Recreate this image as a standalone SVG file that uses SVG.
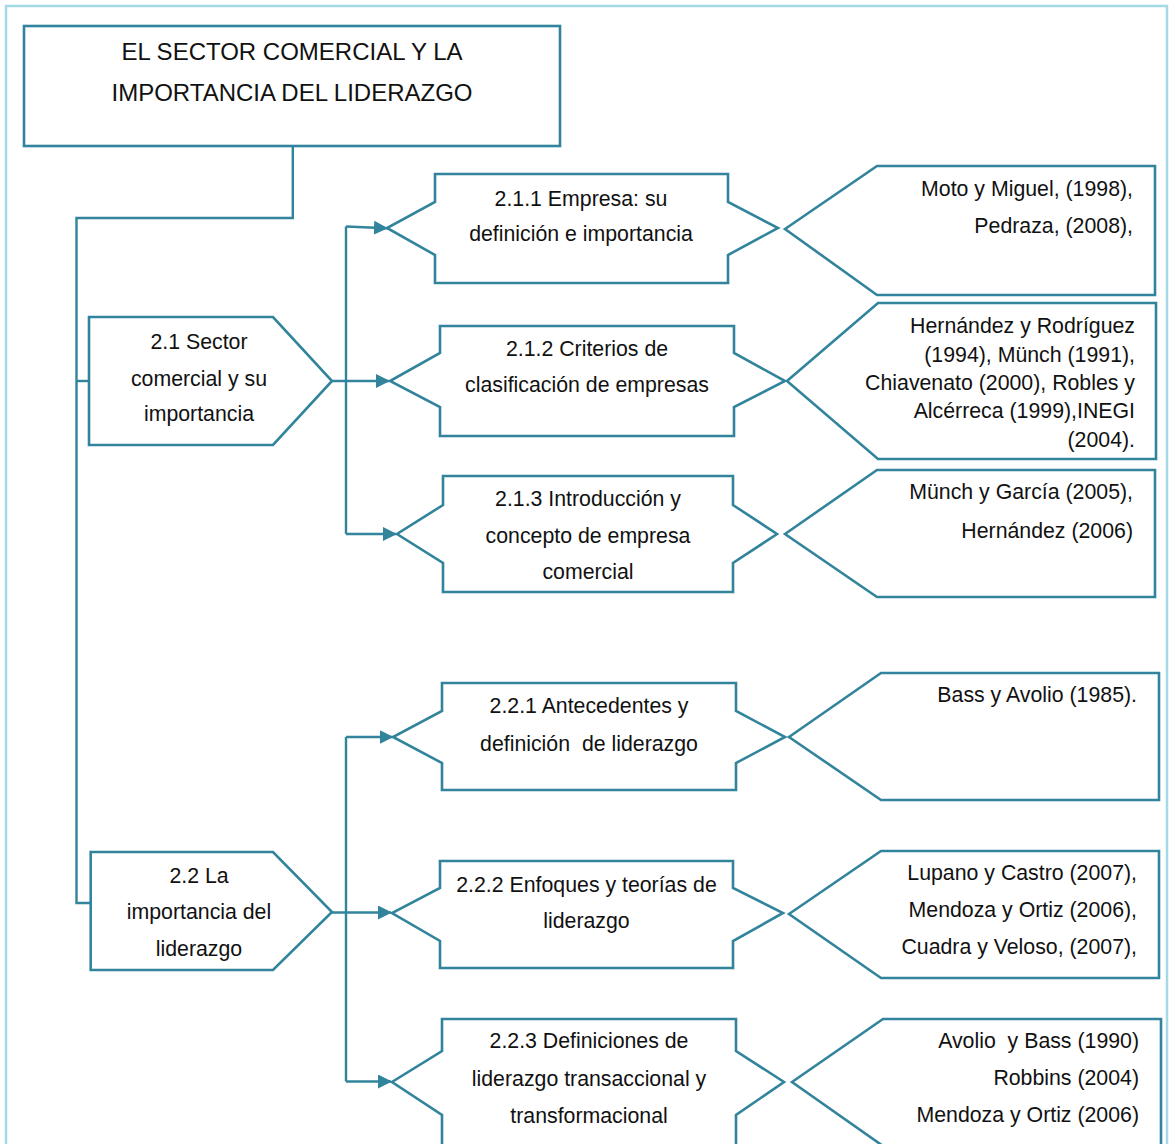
<svg xmlns="http://www.w3.org/2000/svg" width="1172" height="1144" viewBox="0 0 1172 1144">
<style>
.shape{fill:#fff;stroke:#31849B;stroke-width:2.6;stroke-linejoin:miter}
.conn{fill:none;stroke:#31849B;stroke-width:2.4}
text{font-family:"Liberation Sans",Arial,sans-serif;font-size:21.3px;fill:#111}
.c{text-anchor:middle}
.r{text-anchor:end}
.title{font-size:24px}
</style>
<defs>
<marker id="arr" markerUnits="userSpaceOnUse" markerWidth="16" markerHeight="16" refX="13" refY="7" orient="auto">
<path d="M0,0 L14,7 L0,14 z" fill="#31849B"/>
</marker>
</defs>
<rect x="0" y="0" width="1172" height="1144" fill="#fff"/>
<rect x="6" y="6" width="1161" height="1160" fill="none" stroke="#A6D9E6" stroke-width="2.5"/>

<g id="connectors">
<path class="conn" d="M292.8,146 V218 H76.5 V903 H90.7"/>
<path class="conn" d="M76.5,381 H89"/>
<path class="conn" d="M346,226.5 V534"/>
<path class="conn" d="M332,381 H389" marker-end="url(#arr)"/>
<path class="conn" d="M346,226.5 L387,228.3" marker-end="url(#arr)"/>
<path class="conn" d="M346,534 H396" marker-end="url(#arr)"/>
<path class="conn" d="M346,737 V1081.5"/>
<path class="conn" d="M332,912.5 H391" marker-end="url(#arr)"/>
<path class="conn" d="M346,737 H392.5" marker-end="url(#arr)"/>
<path class="conn" d="M346,1081.5 H391" marker-end="url(#arr)"/>
</g>

<g id="title">
<rect class="shape" x="24" y="26" width="536" height="120"/>
<text class="c title" x="292" y="60">EL SECTOR COMERCIAL Y LA</text>
<text class="c title" x="292" y="101">IMPORTANCIA DEL LIDERAZGO</text>
</g>

<g id="n21">
<polygon class="shape" points="89,317 273,317 332,381 273,445 89,445"/>
<text class="c" x="199" y="349">2.1 Sector</text>
<text class="c" x="199" y="386">comercial y su</text>
<text class="c" x="199" y="421">importancia</text>
</g>

<g id="n22">
<polygon class="shape" points="90.7,852 273,852 332,912 273,970 90.7,970"/>
<text class="c" x="199" y="883">2.2 La</text>
<text class="c" x="199" y="919">importancia del</text>
<text class="c" x="199" y="956">liderazgo</text>
</g>

<g id="n211">
<polygon class="shape" points="435,174 728,174 728,202 778,228 728,255 728,283 435,283 435,255 387,228 435,202"/>
<text class="c" x="581" y="206">2.1.1 Empresa: su</text>
<text class="c" x="581" y="241">definición e importancia</text>
</g>

<g id="n212">
<polygon class="shape" points="440,326 734,326 734,353 785,381 734,407 734,436 440,436 440,407 390,381 440,353"/>
<text class="c" x="587" y="356">2.1.2 Criterios de</text>
<text class="c" x="587" y="392">clasificación de empresas</text>
</g>

<g id="n213">
<polygon class="shape" points="443,476 733,476 733,505 777,534 733,563 733,592 443,592 443,563 397,534 443,505"/>
<text class="c" x="588" y="506">2.1.3 Introducción y</text>
<text class="c" x="588" y="543">concepto de empresa</text>
<text class="c" x="588" y="579">comercial</text>
</g>

<g id="n221">
<polygon class="shape" points="442,683 736,683 736,711 785,737 736,763 736,790 442,790 442,763 393,737 442,711"/>
<text class="c" x="589" y="713" xml:space="preserve">2.2.1 Antecedentes y</text>
<text class="c" x="589" y="751" xml:space="preserve">definición  de liderazgo</text>
</g>

<g id="n222">
<polygon class="shape" points="440,861 733,861 733,888 783,913 733,941 733,968 440,968 440,941 392,913 440,888"/>
<text class="c" x="586.5" y="892">2.2.2 Enfoques y teorías de</text>
<text class="c" x="586.5" y="928">liderazgo</text>
</g>

<g id="n223">
<polygon class="shape" points="442,1019 736,1019 736,1051 784,1082 736,1115 736,1170 442,1170 442,1115 392,1082 442,1051"/>
<text class="c" x="589" y="1048">2.2.3 Definiciones de</text>
<text class="c" x="589" y="1086">liderazgo transaccional y</text>
<text class="c" x="589" y="1123">transformacional</text>
</g>

<g id="r1">
<polygon class="shape" points="785,229 877,166 1155,166 1155,295 877,295"/>
<text class="r" x="1133" y="196">Moto y Miguel, (1998),</text>
<text class="r" x="1133" y="233">Pedraza, (2008),</text>
</g>

<g id="r2">
<polygon class="shape" points="787,381 878,303 1156,303 1156,459 878,459"/>
<text class="r" x="1135" y="333">Hernández y Rodríguez</text>
<text class="r" x="1135" y="362">(1994), Münch (1991),</text>
<text class="r" x="1135" y="390">Chiavenato (2000), Robles y</text>
<text class="r" x="1135" y="418">Alcérreca (1999),INEGI</text>
<text class="r" x="1135" y="447">(2004).</text>
</g>

<g id="r3">
<polygon class="shape" points="785,534 877,470 1155,470 1155,597 877,597"/>
<text class="r" x="1133" y="499">Münch y García (2005),</text>
<text class="r" x="1133" y="538">Hernández (2006)</text>
</g>

<g id="r4">
<polygon class="shape" points="789,737 881,673 1159,673 1159,800 881,800"/>
<text class="r" x="1137" y="702">Bass y Avolio (1985).</text>
</g>

<g id="r5">
<polygon class="shape" points="789,914 881,851 1159,851 1159,978 881,978"/>
<text class="r" x="1137" y="880">Lupano y Castro (2007),</text>
<text class="r" x="1137" y="917">Mendoza y Ortiz (2006),</text>
<text class="r" x="1137" y="954">Cuadra y Veloso, (2007),</text>
</g>

<g id="r6">
<polygon class="shape" points="792,1082 883,1019 1161,1019 1161,1146 883,1146"/>
<text class="r" x="1139" y="1048" xml:space="preserve">Avolio  y Bass (1990)</text>
<text class="r" x="1139" y="1085">Robbins (2004)</text>
<text class="r" x="1139" y="1122">Mendoza y Ortiz (2006)</text>
</g>
</svg>
